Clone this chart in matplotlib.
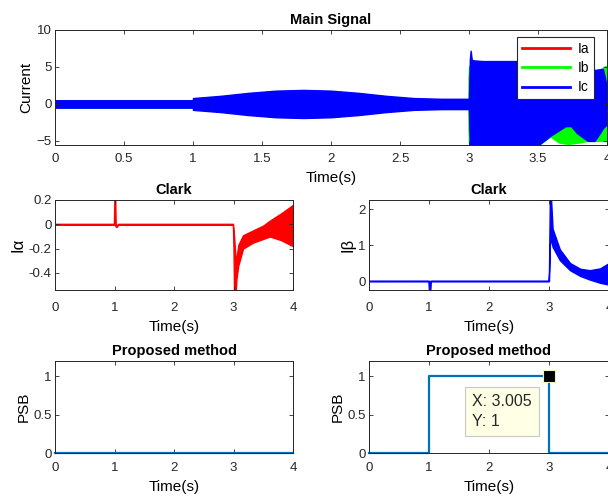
import matplotlib.pyplot as plt

plt.rcParams['font.family'] = ['Liberation Sans', 'DejaVu Sans']

# main signal: envelope of the fast oscillation (upper / lower)
ic_t = [0, 0.999, 1.0, 1.2, 1.4, 1.6, 1.8, 2.0, 2.2, 2.4, 2.6, 2.8, 3.0, 3.006, 3.012,
        3.02, 3.03, 3.1, 3.3, 3.5, 3.59, 3.7, 3.74, 3.78, 3.86, 3.91, 3.95, 3.97, 4.0]
ic_hi = [0.5, 0.5, 0.8, 1.1, 1.5, 1.8, 1.9, 1.8, 1.5, 1.1, 0.8, 0.7, 0.7, 6.0, 7.2,
         6.0, 5.9, 5.8, 5.8, 5.8, 5.6, 5.2, 5.0, 4.9, 4.7, 4.6, 4.7, 4.8, 2.2]
ic_lo = [-0.5, -0.5, -0.8, -1.1, -1.5, -1.8, -1.9, -1.8, -1.5, -1.1, -0.8, -0.7, -0.7, -5.6, -5.6,
         -5.6, -5.6, -5.6, -5.6, -5.6, -4.3, -3.0, -3.0, -3.9, -5.0, -5.0, -3.9, -3.3, -2.7]

ib_t = [0, 2.995, 3.0, 3.5, 3.59, 3.65, 3.72, 3.8, 3.86, 3.9, 3.97, 3.985, 4.0]
ib_hi = [0.5, 0.5, 5.1, 5.1, 4.5, 4.5, 4.4, 4.3, 4.2, 4.1, 4.3, 5.1, 5.1]
ib_lo = [-0.5, -0.5, -5.6, -5.6, -4.4, -5.2, -5.4, -5.2, -5.0, -5.0, -5.0, -5.0, -5.0]

# Ia is completely covered by Ic in the reference
ia_t = [0, 1.0, 1.0, 3.0, 3.0, 4.0]
ia_hi = [0.4, 0.4, 0.6, 0.6, 4.0, 2.0]
ia_lo = [-0.4, -0.4, -0.6, -0.6, -4.0, -2.0]

# Clark alpha
al_t = [0, 0.99, 1.0, 1.01, 1.02, 1.04, 1.06, 2.99, 3.0, 3.01, 3.03, 3.05,
        3.08, 3.16, 3.33, 3.5, 3.61, 3.8, 4.0]
al_hi = [0.004, 0.004, 0.25, 0.25, 0.0, -0.01, 0.004, 0.004, -0.05, -0.1, -0.25, -0.28,
         -0.17, -0.09, -0.05, -0.01, 0.03, 0.09, 0.16]
al_lo = [-0.004, -0.004, 0.0, 0.0, -0.02, -0.02, -0.004, -0.004, -0.2, -0.6, -0.6, -0.45,
         -0.34, -0.2, -0.15, -0.12, -0.1, -0.13, -0.18]

# Clark beta
be_t = [0, 0.99, 1.0, 1.02, 1.03, 2.99, 3.0, 3.015, 3.03, 3.06, 3.18, 3.35,
        3.52, 3.68, 3.85, 4.0]
be_hi = [0.01, 0.01, 0.0, 0.0, 0.01, 0.01, 0.3, 2.4, 2.4, 1.45, 0.88, 0.5,
         0.34, 0.3, 0.35, 0.5]
be_lo = [-0.01, -0.01, -0.3, -0.3, -0.01, -0.01, 0.0, 1.0, 1.2, 0.95, 0.58, 0.3,
         0.14, 0.04, -0.05, -0.1]

# PSB outputs
psb1_t = [0, 4]
psb1 = [0, 0]
psb2_t = [0, 1.0, 1.0, 3.005, 3.005, 4.0]
psb2 = [0, 0, 1, 1, 0, 0]
tip_x, tip_y = 3.005, 1

DARK = '#262626'
MBLUE = '#0072BD'


def style(ax, xpad):
    ax.tick_params(direction='in', top=True, right=True, length=3, width=0.6,
                   colors=DARK, labelsize=9.5)
    ax.tick_params(axis='x', pad=xpad)
    ax.tick_params(axis='y', pad=2.5)
    for s in ax.spines.values():
        s.set_color(DARK)
        s.set_linewidth(0.7)


def band(ax, t, hi, lo, color):
    ax.fill_between(t, lo, hi, facecolor=color, edgecolor=color, linewidth=1.0)


W, H = 608, 496
fig = plt.figure(figsize=(W / 100, H / 100), dpi=100)


def box(x0, y0, x1, y1):
    return [x0 / W, (H - y1) / H, (x1 - x0) / W, (y1 - y0) / H]


ax1 = fig.add_axes(box(55, 30, 607, 145))
ax2 = fig.add_axes(box(55, 200, 293, 290))
ax3 = fig.add_axes(box(369, 200, 609, 290))
ax4 = fig.add_axes(box(55, 361, 293, 453))
ax5 = fig.add_axes(box(369, 361, 609, 453))

# main signal
band(ax1, ia_t, ia_hi, ia_lo, 'red')
band(ax1, ib_t, ib_hi, ib_lo, '#00ff00')
band(ax1, ic_t, ic_hi, ic_lo, 'blue')
ax1.plot([], [], color='red', lw=2, label='Ia')
ax1.plot([], [], color='#00ff00', lw=2, label='Ib')
ax1.plot([], [], color='blue', lw=2, label='Ic')
ax1.set_xlim(0, 4)
ax1.set_ylim(-5.55, 10)
ax1.set_xticks([0, 0.5, 1, 1.5, 2, 2.5, 3, 3.5, 4])
ax1.set_xticklabels(['0', '0.5', '1', '1.5', '2', '2.5', '3', '3.5', '4'])
ax1.set_yticks([-5, 0, 5, 10])
ax1.set_title('Main Signal', fontsize=10.5, fontweight='bold', pad=4)
ax1.set_ylabel('Current', fontsize=11, labelpad=2)
ax1.set_xlabel('Time(s)', fontsize=11, labelpad=4)
leg = ax1.legend(loc='upper right', bbox_to_anchor=(0.976, 0.939), borderaxespad=0,
                 fontsize=10, handlelength=3.5, fancybox=False, edgecolor=DARK,
                 framealpha=1, borderpad=0.35, labelspacing=0.38, handletextpad=0.5)
leg.get_frame().set_linewidth(0.8)
style(ax1, 6)

# clark alpha
band(ax2, al_t, al_hi, al_lo, 'red')
ax2.set_xlim(0, 4)
ax2.set_ylim(-0.54, 0.2)
ax2.set_yticks([-0.4, -0.2, 0, 0.2])
ax2.set_yticklabels(['-0.4', '-0.2', '0', '0.2'])
ax2.set_title('Clark', fontsize=10.5, fontweight='bold', pad=4)
ax2.set_ylabel('Iα', fontsize=12, labelpad=2)
ax2.set_xlabel('Time(s)', fontsize=11, labelpad=4.5)
style(ax2, 8.5)

# clark beta
band(ax3, be_t, be_hi, be_lo, 'blue')
ax3.set_xlim(0, 4)
ax3.set_ylim(-0.25, 2.25)
ax3.set_yticks([0, 1, 2])
ax3.set_title('Clark', fontsize=10.5, fontweight='bold', pad=4)
ax3.set_ylabel('Iβ', fontsize=12, labelpad=2)
ax3.set_xlabel('Time(s)', fontsize=11, labelpad=4.5)
style(ax3, 8.5)

# proposed method
for ax, t, y in [(ax4, psb1_t, psb1), (ax5, psb2_t, psb2)]:
    ax.plot(t, y, color=MBLUE, lw=1.6, clip_on=False)
    ax.set_xlim(0, 4)
    ax.set_ylim(0, 1.2)
    ax.set_yticks([0, 0.5, 1])
    ax.set_yticklabels(['0', '0.5', '1'])
    ax.set_title('Proposed method', fontsize=10.5, fontweight='bold', pad=4)
    ax.set_ylabel('PSB', fontsize=11, labelpad=2)
    ax.set_xlabel('Time(s)', fontsize=11, labelpad=4.5)
    style(ax, 6.5)

# data tip
ax5.plot([tip_x], [tip_y], marker='s', ms=8, color='black', mec='#f0f0c0', mew=0.8,
         zorder=5, clip_on=False)
ax5.text(1.72, 0.54, 'X: 3.005\nY: 1', fontsize=11.5, color='#262626', va='center',
         ha='left', linespacing=1.45,
         bbox=dict(boxstyle='square,pad=0.45', facecolor='#ffffe6', edgecolor='#c8c8c8',
                   linewidth=0.8))

fig.savefig('out.png', dpi=100)
